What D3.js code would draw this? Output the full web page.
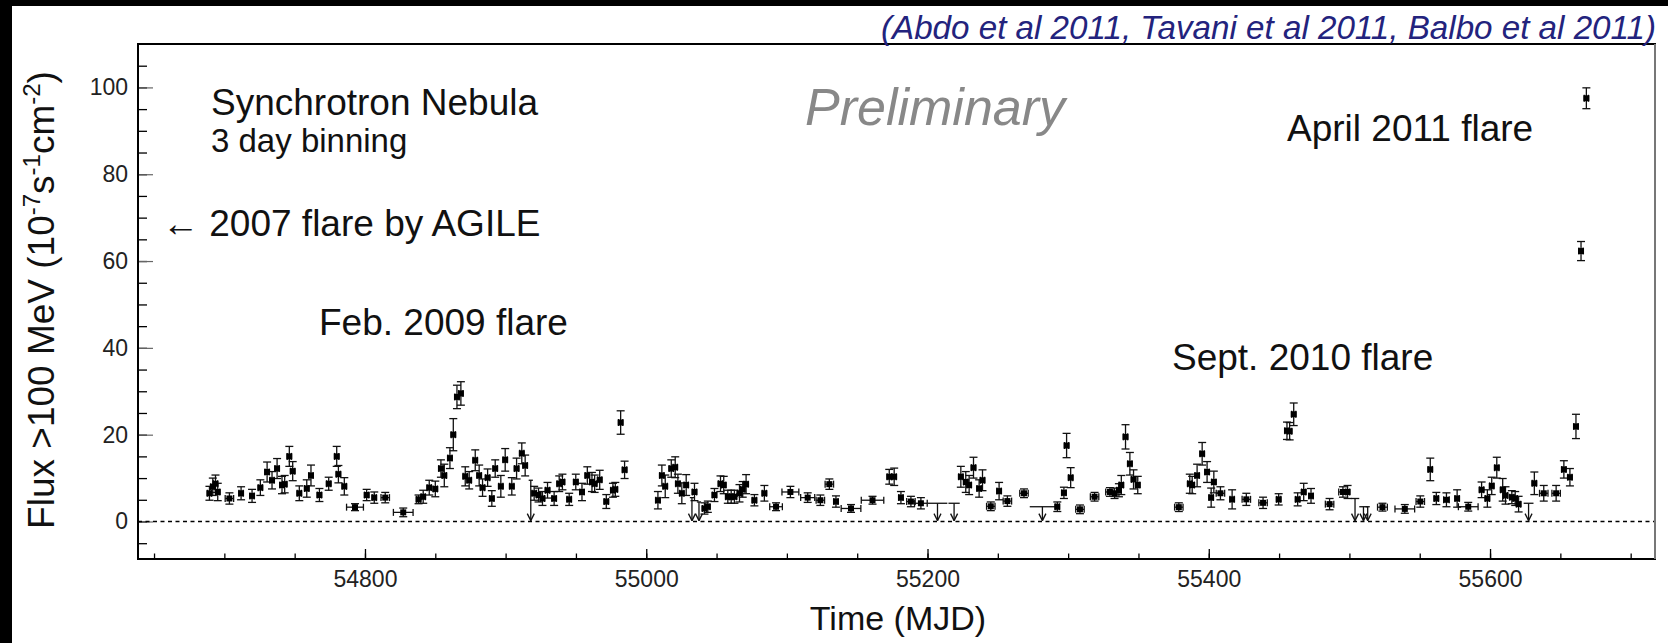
<!DOCTYPE html>
<html>
<head>
<meta charset="utf-8">
<script src="https://cdn.jsdelivr.net/npm/d3@7"></script>
<style>
  body { margin: 0; background: #fff; }
  svg text { font-family: "Liberation Sans", Arial, sans-serif; }
</style>
</head>
<body>
<svg id="chart" width="1668" height="643"></svg>
<script>
// ---- data ----
var mjd = [54689.4,54691.8,54693.7,54695.3,54703.6,54711.9,54719.7,54725.6,54730.4,54733.9,
  54737.5,54741.0,54742.9,54746.2,54748.6,54753.3,54758.6,54761.6,54767.6,54774.2,
  54779.9,54781.1,54785.3,54792.9,54801.2,54806.6,54814.4,54827.2,54838.1,54841.4,
  54845.7,54850.0,54854.0,54856.4,54860.4,54862.8,54865.4,54868.2,54871.3,54874.1,
  54878.4,54881.2,54883.6,54887.2,54890.2,54892.6,54896.6,54899.7,54904.4,54907.8,
  54911.5,54913.9,54920.3,54923.4,54926.2,54929.8,54934.5,54938.1,54940.4,54945.2,
  54949.9,54954.3,54958.1,54961.4,54963.3,54966.9,54971.6,54976.3,54978.0,54981.8,
  54984.6,55008.3,55011.1,55013.5,55017.8,55020.6,55022.5,55025.3,55028.4,55034.3,
  55041.4,55043.8,55048.5,55052.8,55055.1,55058.0,55060.4,55062.7,55066.3,55068.6,
  55071.0,55076.9,55084.0,55092.3,55102.5,55114.8,55123.8,55130.2,55134.9,55145.6,
  55160.9,55172.8,55176.3,55181.1,55188.2,55195.3,55223.7,55227.2,55229.6,55232.7,
  55236.7,55239.1,55245.0,55250.9,55256.8,55268.6,55292.3,55297.0,55298.9,55301.8,
  55308.4,55318.8,55329.7,55333.0,55336.1,55337.8,55340.8,55343.9,55346.5,55349.5,
  55378.7,55386.5,55388.2,55391.7,55395.3,55398.8,55401.7,55403.6,55408.3,55416.6,
  55426.7,55438.6,55449.7,55455.6,55457.5,55460.4,55463.2,55467.5,55472.7,55485.9,
  55495.4,55498.7,55523.5,55539.4,55550.4,55557.5,55561.8,55569.0,55576.6,55584.5,
  55594.0,55598.1,55601.2,55604.8,55609.0,55611.0,55615.5,55617.9,55620.3,55631.5,
  55638.2,55647.0,55652.5,55656.8,55661.1,55664.7,55668.5];

var flux = [6.5,8.0,8.7,6.8,5.3,6.5,5.9,7.8,11.4,9.5,
  12.2,8.4,8.6,15.0,11.6,6.5,7.6,10.6,6.1,8.7,
  15.0,10.9,8.1,3.3,6.1,5.5,5.5,2.1,5.1,5.7,
  7.8,7.5,12.2,10.6,14.6,20.0,28.7,29.5,10.4,9.5,
  14.1,10.6,7.8,10.1,5.3,12.2,8.1,14.2,8.1,12.2,
  15.7,12.9,6.5,6.1,5.3,7.2,5.3,8.7,9.1,5.1,
  9.1,6.8,10.6,9.1,8.7,9.6,4.6,7.2,7.4,22.8,
  11.9,4.9,10.6,8.1,12.2,12.5,8.7,6.5,8.4,6.8,
  3.0,3.4,6.1,8.7,8.4,5.7,5.7,5.7,6.5,7.4,
  8.6,4.9,6.5,3.4,6.8,5.5,4.9,8.6,4.6,3.0,
  4.9,10.3,10.3,5.5,4.6,4.2,10.3,9.1,8.4,12.4,
  7.6,9.5,3.5,7.0,4.7,6.5,3.4,6.6,17.5,10.1,
  2.8,5.7,6.8,6.5,7.2,8.4,19.5,13.3,9.7,8.4,
  3.3,8.7,8.4,10.6,15.6,11.4,5.5,9.1,6.5,5.1,
  5.1,4.3,5.1,20.9,20.8,24.7,5.1,6.8,5.9,4.0,
  6.8,6.8,3.3,2.9,4.6,12.0,5.3,5.0,5.3,3.4,
  7.3,5.3,8.2,12.4,7.3,6.0,5.6,5.3,4.0,8.8,
  6.5,6.5,12.0,10.2,21.9,62.3,97.5];

var fluxErr = [1.6,2.0,2.0,2.0,1.3,1.5,1.5,1.8,2.3,2.0,
  2.3,2.0,2.0,2.3,2.2,1.7,2.0,2.4,1.5,1.5,
  2.3,2.0,2.0,0.8,1.3,1.3,1.2,1.0,1.0,1.5,
  1.7,1.8,2.0,2.6,2.4,3.7,2.7,2.7,2.2,2.0,
  2.4,2.4,2.0,2.0,1.8,2.0,2.5,2.6,2.0,2.4,
  2.4,2.4,1.6,1.6,1.6,1.8,1.6,1.8,1.8,1.4,
  1.8,2.0,2.0,2.2,2.0,2.2,1.6,1.6,1.6,2.7,
  2.0,2.0,2.4,2.6,2.0,2.4,2.2,2.4,2.4,2.0,
  1.3,1.3,1.5,1.8,2.0,1.5,1.5,1.5,2.0,1.8,
  2.2,1.3,1.8,0.9,1.3,1.1,1.2,1.2,1.3,0.9,
  0.9,1.7,2.0,1.4,1.2,1.3,2.4,2.4,2.2,2.4,
  2.0,2.4,1.0,2.0,1.2,1.0,1.1,1.3,2.8,2.3,
  1.0,1.0,1.0,1.2,1.5,2.2,2.8,2.6,2.2,2.0,
  1.0,2.2,2.0,2.6,2.6,2.4,2.2,2.5,1.5,2.2,
  1.4,1.3,1.3,2.0,2.0,2.6,1.5,2.0,1.7,1.3,
  1.2,1.5,0.9,1.0,1.3,2.6,1.4,1.6,2.0,1.0,
  1.8,2.0,2.0,2.4,2.6,2.0,1.5,1.6,1.8,2.6,
  1.8,1.8,2.0,2.0,2.8,2.2,2.4];

var binHalf = [1.5,1.5,1.5,1.5,3,1.5,1.5,1.5,1.5,1.5,
  1.5,1.5,1.5,1.5,1.5,1.5,1.5,1.5,1.5,1.5,
  1.5,1.5,1.5,6,1.5,1.5,3,7,1.5,1.5,
  1.5,1.5,1.5,1.5,1.5,1.5,1.5,1.5,1.5,1.5,
  1.5,1.5,1.5,1.5,1.5,1.5,1.5,1.5,1.5,1.5,
  1.5,1.5,1.5,1.5,1.5,1.5,1.5,1.5,1.5,1.5,
  1.5,1.5,1.5,1.5,1.5,1.5,1.5,1.5,1.5,1.5,
  1.5,1.5,1.5,1.5,1.5,1.5,1.5,1.5,1.5,1.5,
  1.5,1.5,1.5,1.5,1.5,1.5,1.5,1.5,1.5,1.5,
  1.5,1.5,1.5,4.5,6,5,3,3,1.5,7,
  8,1.5,1.5,1.5,3,4.5,1.5,1.5,1.5,1.5,
  1.5,1.5,3,1.5,3,3,1.5,1.5,1.5,1.5,
  3,3,3,1.5,1.5,1.5,1.5,1.5,1.5,1.5,
  3,1.5,1.5,1.5,1.5,1.5,1.5,1.5,3,1.5,
  3,3,1.5,1.5,1.5,1.5,1.5,1.5,1.5,3,
  3,1.5,3.5,7,3,1.5,1.5,2,1.5,7,
  1.5,1.5,1.5,1.5,1.5,1.5,1.5,1.5,1.5,1.5,
  3,3,1.5,1.5,1.5,1.5,1.5];

// upper limits
var ulMjd  = [54917.9,55032.5,55037.5,55207.1,55218.9,55281.7,55504.0,55510.0,55513.0,55627.4];
var ulFlux = [9.5,5.5,4.5,4.2,4.2,3.4,5.3,3.4,3.4,4.2];
var ulHalf = [1.5,1.5,1.5,7,4,9,3,3,1.5,3.5];

var xMajorTicks = [54800,55000,55200,55400,55600];
var yMajorTicks = [0,20,40,60,80,100];

// ---- layout ----
var svg = d3.select('#chart');
var L = 138, R = 1655, T = 44, B = 559;

var x = d3.scaleLinear().domain([54638.6, 55717.3]).range([L, R]);
var y = d3.scaleLinear().domain([-8.64, 110.0]).range([B, T]);

svg.append('rect').attr('x', 0).attr('y', 0).attr('width', 1668).attr('height', 643).attr('fill', '#fff');
// black slide borders
svg.append('rect').attr('x', 0).attr('y', 0).attr('width', 1668).attr('height', 6).attr('fill', '#000');
svg.append('rect').attr('x', 0).attr('y', 0).attr('width', 12).attr('height', 643).attr('fill', '#000');

// minor ticks
var xMinor = d3.range(54650, 55717, 50);
var yMinor = d3.range(-5, 110, 5);

svg.append('g').attr('transform', 'translate(0,' + B + ')')
  .call(d3.axisBottom(x).tickValues(xMinor).tickSize(-5.5).tickFormat(''))
  .call(function(g){ g.select('.domain').remove(); g.selectAll('line').attr('stroke', '#000').attr('stroke-width', 1.3); });

svg.append('g').attr('transform', 'translate(0,' + B + ')')
  .call(d3.axisBottom(x).tickValues(xMajorTicks).tickSize(-10).tickPadding(12).tickFormat(d3.format('d')))
  .call(function(g){
    g.select('.domain').remove();
    g.selectAll('line').attr('stroke', '#000').attr('stroke-width', 1.3);
    g.selectAll('text').attr('font-size', 23).attr('fill', '#222')
      .attr('font-family', '"Liberation Sans", Arial, sans-serif');
  });

svg.append('g').attr('transform', 'translate(' + L + ',0)')
  .call(d3.axisLeft(y).tickValues(yMinor).tickSize(-9).tickFormat(''))
  .call(function(g){ g.select('.domain').remove(); g.selectAll('line').attr('stroke', '#000').attr('stroke-width', 1.3); });

svg.append('g').attr('transform', 'translate(' + L + ',0)')
  .call(d3.axisLeft(y).tickValues(yMajorTicks).tickSize(-15).tickPadding(10))
  .call(function(g){
    g.select('.domain').remove();
    g.selectAll('line').attr('stroke', '#666').attr('stroke-width', 1.2);
    g.selectAll('text').attr('font-size', 23).attr('fill', '#222')
      .attr('font-family', '"Liberation Sans", Arial, sans-serif');
  });

// zero line
svg.append('line').attr('x1', L).attr('x2', R).attr('y1', y(0)).attr('y2', y(0))
  .attr('stroke', '#000').attr('stroke-width', 1.4).attr('stroke-dasharray', '4,3.5');

// frame
svg.append('rect').attr('x', L).attr('y', T).attr('width', R - L).attr('height', B - T)
  .attr('fill', 'none').attr('stroke', '#000').attr('stroke-width', 2);
svg.append('line').attr('x1', R).attr('x2', R).attr('y1', T).attr('y2', B)
  .attr('stroke', '#777').attr('stroke-width', 2);

// ---- points ----
var pts = mjd.map(function(m, i){ return {m: m, f: flux[i], e: fluxErr[i], h: binHalf[i]}; });
var g = svg.append('g').attr('stroke', '#111').attr('stroke-width', 1.3);

pts.forEach(function(d){
  var cx = x(d.m), cy = y(d.f), y1 = y(d.f - d.e), y2 = y(d.f + d.e);
  var x1 = x(d.m - d.h), x2 = x(d.m + d.h);
  g.append('line').attr('x1', cx).attr('x2', cx).attr('y1', y1).attr('y2', y2);
  g.append('line').attr('x1', cx - 4).attr('x2', cx + 4).attr('y1', y1).attr('y2', y1);
  g.append('line').attr('x1', cx - 4).attr('x2', cx + 4).attr('y1', y2).attr('y2', y2);
  g.append('line').attr('x1', x1).attr('x2', x2).attr('y1', cy).attr('y2', cy);
  g.append('line').attr('x1', x1).attr('x2', x1).attr('y1', cy - 3.5).attr('y2', cy + 3.5);
  g.append('line').attr('x1', x2).attr('x2', x2).attr('y1', cy - 3.5).attr('y2', cy + 3.5);
});

svg.append('g').selectAll('rect').data(pts).enter().append('rect')
  .attr('x', function(d){ return x(d.m) - 3; })
  .attr('y', function(d){ return y(d.f) - 3; })
  .attr('width', 6).attr('height', 6).attr('fill', '#000');

// upper limits
ulMjd.forEach(function(m, i){
  var cx = x(m), top = y(ulFlux[i]), tip = y(0.2);
  g.append('line').attr('x1', x(m - ulHalf[i])).attr('x2', x(m + ulHalf[i])).attr('y1', top).attr('y2', top);
  g.append('line').attr('x1', cx).attr('x2', cx).attr('y1', top).attr('y2', tip);
  g.append('line').attr('x1', cx - 3.5).attr('x2', cx).attr('y1', tip - 7).attr('y2', tip);
  g.append('line').attr('x1', cx + 3.5).attr('x2', cx).attr('y1', tip - 7).attr('y2', tip);
});

// ---- texts ----
function txt(tx, ty, s, size, opts){
  opts = opts || {};
  return svg.append('text').attr('x', tx).attr('y', ty).text(s)
    .attr('font-size', size)
    .attr('fill', opts.fill || '#111')
    .attr('font-style', opts.italic ? 'italic' : null)
    .attr('text-anchor', opts.anchor || 'start');
}

txt(1656, 39, '(Abdo et al 2011, Tavani et al 2011, Balbo et al 2011)', 33, {fill: '#23237d', italic: true, anchor: 'end'})
  .attr('textLength', 775).attr('lengthAdjust', 'spacingAndGlyphs');
txt(211, 115, 'Synchrotron Nebula', 37);
txt(211, 152, '3 day binning', 33);
txt(805, 125, 'Preliminary', 52, {fill: '#888', italic: true});
txt(1287, 141, 'April 2011 flare', 37);
txt(162, 236, '\u2190 2007 flare by AGILE', 37);
txt(319, 335, 'Feb. 2009 flare', 37);
txt(1172, 370, 'Sept. 2010 flare', 37);

txt(898, 630, 'Time (MJD)', 34, {anchor: 'middle'});

var yl = svg.append('text').attr('transform', 'translate(54,300) rotate(-90)')
  .attr('text-anchor', 'middle').attr('font-size', 37).attr('fill', '#111');
yl.append('tspan').text('Flux >100 MeV (10');
yl.append('tspan').attr('font-size', 24).attr('dy', -14).text('-7');
yl.append('tspan').attr('dy', 14).text('s');
yl.append('tspan').attr('font-size', 24).attr('dy', -14).text('-1');
yl.append('tspan').attr('dy', 14).text('cm');
yl.append('tspan').attr('font-size', 24).attr('dy', -14).text('-2');
yl.append('tspan').attr('dy', 14).text(')');
</script>
</body>
</html>
